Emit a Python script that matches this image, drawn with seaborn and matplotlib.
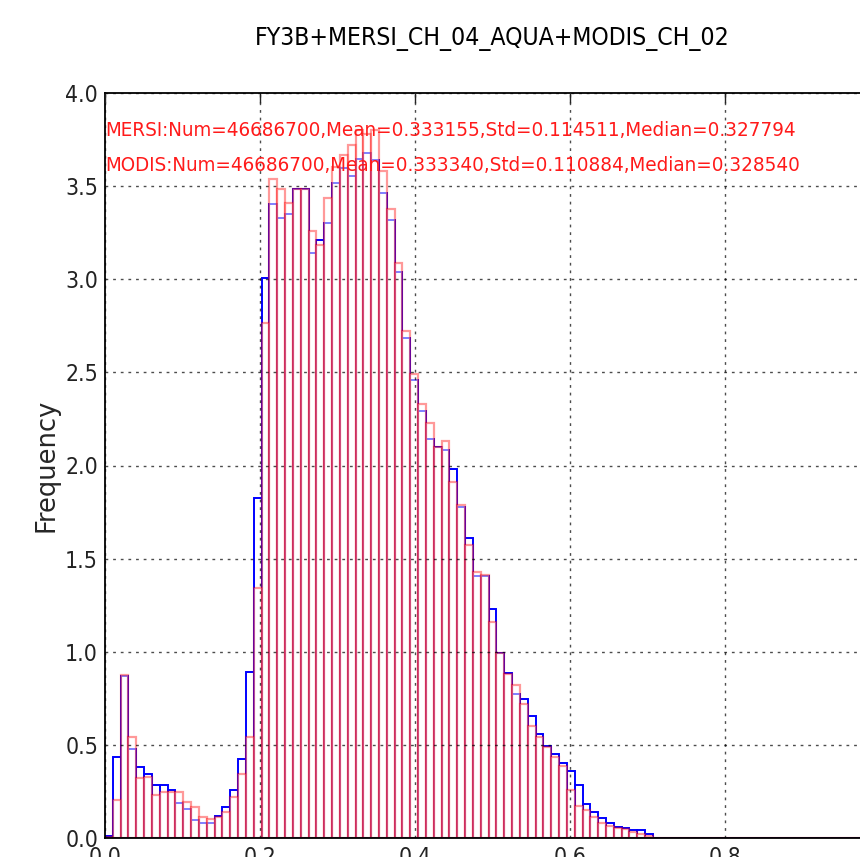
import numpy as np
import seaborn as sns
import matplotlib.pyplot as plt
from matplotlib import font_manager as fm

# density histograms, 99 bins from 0 to 1 (heights)
bin_edges = np.linspace(0, 1, 100).tolist()

mersi_freq = [0.010, 0.436, 0.870, 0.478, 0.383, 0.342, 0.285, 0.285, 0.258, 0.190,
              0.154, 0.097, 0.079, 0.079, 0.118, 0.165, 0.258, 0.424, 0.893, 1.826,
              3.008, 3.404, 3.327, 3.350, 3.483, 3.483, 3.139, 3.211, 3.304, 3.515,
              3.596, 3.554, 3.644, 3.680, 3.640, 3.461, 3.318, 3.041, 2.683, 2.459,
              2.294, 2.142, 2.101, 2.083, 1.981, 1.776, 1.609, 1.407, 1.407, 1.228,
              0.995, 0.884, 0.773, 0.746, 0.657, 0.557, 0.494, 0.451, 0.401, 0.360,
              0.285, 0.181, 0.138, 0.106, 0.082, 0.061, 0.052, 0.043, 0.043, 0.021]

modis_freq = [0.005, 0.204, 0.875, 0.544, 0.324, 0.329, 0.231, 0.249, 0.249, 0.249,
              0.195, 0.165, 0.111, 0.100, 0.111, 0.138, 0.222, 0.344, 0.541, 1.342,
              2.763, 3.537, 3.485, 3.411, 3.483, 3.483, 3.259, 3.184, 3.435, 3.604,
              3.667, 3.720, 3.800, 3.780, 3.800, 3.580, 3.375, 3.086, 2.724, 2.491,
              2.328, 2.226, 2.101, 2.133, 1.913, 1.788, 1.573, 1.430, 1.412, 1.161,
              0.995, 0.880, 0.821, 0.719, 0.603, 0.541, 0.490, 0.437, 0.387, 0.258,
              0.172, 0.150, 0.114, 0.082, 0.064, 0.052, 0.047, 0.034, 0.021, 0.010]

mersi_label = 'MERSI:Num=46686700,Mean=0.333155,Std=0.114511,Median=0.327794'
modis_label = 'MODIS:Num=46686700,Mean=0.333340,Std=0.110884,Median=0.328540'
title = 'FY3B+MERSI_CH_04_AQUA+MODIS_CH_02'
x_ticks = [0.0, 0.2, 0.4, 0.6, 0.8, 1.0]
y_ticks = [0.0, 0.5, 1.0, 1.5, 2.0, 2.5, 3.0, 3.5, 4.0]

sns.set_style('white')
plt.rcParams['font.family'] = ['DejaVu Sans']

# the reference text is narrow; use a condensed face if one is installed
narrow = None
for f in fm.fontManager.ttflist:
    if f.style != 'normal' or f.weight not in (400, 'normal', 'regular'):
        continue
    if f.name == 'DejaVu Sans' and 'condensed' in str(f.stretch):
        narrow = f.fname
        break
if narrow is None:
    for f in fm.fontManager.ttflist:
        if f.style == 'normal' and f.weight in (400, 'normal', 'regular') and \
                ('Narrow' in f.name or 'Condensed' in f.name or 'condensed' in str(f.stretch)):
            narrow = f.fname
            break
fp = fm.FontProperties(fname=narrow) if narrow else fm.FontProperties(family='DejaVu Sans')

fig = plt.figure(figsize=(8.6, 8.57), dpi=100)
# the reference crops the right edge of the axes off
ax = fig.add_axes([105 / 860, 19 / 857, 775 / 860, 745 / 857])

centers = [(a + b) / 2 for a, b in zip(bin_edges[:-1], bin_edges[1:])]

sns.histplot(x=centers[:len(mersi_freq)], weights=mersi_freq, bins=bin_edges,
             stat='count', element='bars', fill=False, color='blue',
             linewidth=1.4, ax=ax)
sns.histplot(x=centers[:len(modis_freq)], weights=modis_freq, bins=bin_edges,
             stat='count', element='bars', fill=True,
             facecolor=(1, 1, 1, 0.5), edgecolor=(1, 0, 0, 0.4),
             linewidth=1.6, ax=ax)

ax.set_xlim(0, 1)
ax.set_ylim(0, 4)
ax.set_xticks(x_ticks)
ax.set_yticks(y_ticks)
ax.set_xticklabels([f'{t:.1f}' for t in x_ticks])
ax.set_yticklabels([f'{t:.1f}' for t in y_ticks])
ax.tick_params(direction='in', length=7, width=1, top=True, right=True,
               colors='#222222', pad=5)
ax.tick_params(axis='x', pad=6)

ax.set_axisbelow(False)
ax.grid(True, color='black', linestyle=(0, (2, 3.5)), linewidth=1, alpha=0.7)
for sp in ax.spines.values():
    sp.set_color('black')
    sp.set_linewidth(1.3)

ax.set_xlabel('')

t1 = ax.text(0.0, 3.769, mersi_label, color='#ff1a1a', fontproperties=fp,
             fontsize=15, va='baseline', ha='left')
t2 = ax.text(0.0, 3.583, modis_label, color='#ff1a1a', fontproperties=fp,
             fontsize=15, va='baseline', ha='left')
tt = ax.text(0.5, 1 + 48 / 745, title, transform=ax.transAxes, ha='center',
             va='baseline', fontproperties=fp, fontsize=18, color='black')


def fit_width(txt, target):
    fig.canvas.draw()
    w = txt.get_window_extent().width
    txt.set_fontsize(txt.get_fontsize() * target / w)


fit_width(t1, 693)
t2.set_fontsize(t1.get_fontsize())
fit_width(tt, 478)

tick_size = t1.get_fontsize() * 1.12
for lab in ax.get_xticklabels() + ax.get_yticklabels():
    lab.set_fontproperties(fp)
    lab.set_fontsize(tick_size)

ax.set_ylabel('Frequency', family='DejaVu Sans', fontsize=18.5, labelpad=4)

fig.savefig('out.png', dpi=100)
